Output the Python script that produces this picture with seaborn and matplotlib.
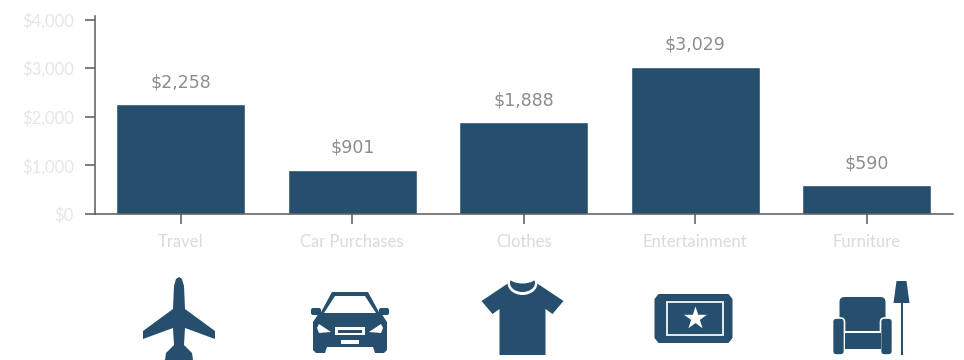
import matplotlib
matplotlib.use("Agg")
import matplotlib.pyplot as plt
from matplotlib.patches import Polygon, Rectangle, Ellipse, FancyBboxPatch
import seaborn as sns

categories = ["Travel", "Car Purchases", "Clothes", "Entertainment", "Furniture"]
spending = [2258, 901, 1888, 3029, 590]
y_ticks = [0, 1000, 2000, 3000, 4000]
y_tick_labels = ["$0", "$1,000", "$2,000", "$3,000", "$4,000"]

NAVY = "#264f6e"
AXIS = "#5a5a5a"
W, H = 964, 360

sns.set_theme(style="white")
plt.rcParams["font.family"] = ["Lato", "DejaVu Sans"]

fig = plt.figure(figsize=(W / 100, H / 100), dpi=100, facecolor="white")
ax = fig.add_axes([95 / W, 1 - 214 / H, (952.5 - 95) / W, (214 - 16) / H])

sns.barplot(x=categories, y=spending, color=NAVY, saturation=1, width=0.755, ax=ax)
ax.set_ylim(0, 4072)
ax.set_xlim(-0.5, 4.5)
ax.set_yticks(y_ticks, y_tick_labels)
ax.tick_params(axis="both", length=7.2, width=1.1, color=AXIS, direction="out", left=True, bottom=True)
ax.tick_params(axis="y", labelsize=12, labelcolor="#e6e6e6", pad=8)
ax.tick_params(axis="x", labelsize=12, labelcolor="#dadada", pad=7)
ax.set_xlabel("")
ax.set_ylabel("")
for side in ("top", "right"):
    ax.spines[side].set_visible(False)
for side in ("left", "bottom"):
    ax.spines[side].set_color(AXIS)
    ax.spines[side].set_linewidth(1.1)

for i, value in enumerate(spending):
    ax.annotate(f"${value:,}", (i, value), xytext=(0, 9.5), textcoords="offset points",
                ha="center", va="bottom", fontsize=12.5, color="#8c8c8c", family="DejaVu Sans")

# Icon row, laid out in a pixel-based overlay
ic = fig.add_axes([0, 0, 1, 1], facecolor="none")
ic.set_xlim(0, W)
ic.set_ylim(H, 0)
ic.axis("off")


def poly(points, color=NAVY):
    ic.add_patch(Polygon(points, closed=True, facecolor=color, edgecolor="none"))


def rect(x0, y0, x1, y1, color=NAVY):
    ic.add_patch(Rectangle((x0, y0), x1 - x0, y1 - y0, facecolor=color, edgecolor="none"))


def rounded(x0, y0, x1, y1, radius, edge="none"):
    ic.add_patch(FancyBboxPatch((x0, y0), x1 - x0, y1 - y0, boxstyle=f"round,pad=0,rounding_size={radius}",
                                facecolor=NAVY, edgecolor=edge, linewidth=1.2))


def plane(cx):
    poly([(cx - 5, 286), (cx - 3, 279), (cx, 277), (cx + 3, 279), (cx + 5, 286), (cx + 6, 309),
          (cx + 36, 331), (cx + 36, 339), (cx + 6, 328), (cx + 5, 345), (cx + 13, 353), (cx + 14, 360),
          (cx - 14, 360), (cx - 13, 353), (cx - 5, 345), (cx - 6, 328), (cx - 36, 339), (cx - 36, 331),
          (cx - 6, 309)])


def car(cx):
    poly([(cx - 18, 292), (cx + 18, 292), (cx + 30, 314), (cx - 30, 314)])
    poly([(cx - 15, 296), (cx + 15, 296), (cx + 26, 313), (cx - 26, 313)], color="white")
    rounded(cx - 39, 308, cx - 29, 315, 2)
    rounded(cx + 29, 308, cx + 39, 315, 2)
    poly([(cx - 31, 313), (cx + 31, 313), (cx + 37, 322), (cx + 37, 350), (cx + 34, 353), (cx + 25, 353),
          (cx + 23, 347), (cx - 23, 347), (cx - 25, 353), (cx - 34, 353), (cx - 37, 350), (cx - 37, 322)])
    # headlights, grille and plate
    poly([(cx - 31, 324), (cx - 19, 332), (cx - 31, 333), (cx - 33, 328)], color="white")
    poly([(cx + 31, 324), (cx + 19, 332), (cx + 31, 333), (cx + 33, 328)], color="white")
    rect(cx - 15, 327, cx + 15, 335, color="white")
    rect(cx - 12, 329.5, cx + 12, 332.5)
    rect(cx - 9, 340, cx + 9, 344, color="white")


def shirt(cx):
    poly([(cx - 14, 283), (cx + 14, 283), (cx + 41, 301), (cx + 30, 314), (cx + 23, 309), (cx + 23, 355),
          (cx - 23, 355), (cx - 23, 309), (cx - 30, 314), (cx - 41, 301)])
    ic.add_patch(Ellipse((cx, 283), 30, 24, facecolor="white", edgecolor="none"))
    ic.add_patch(Ellipse((cx, 283), 25, 18, facecolor=NAVY, edgecolor="none"))
    ic.add_patch(Ellipse((cx, 276), 29, 15, facecolor="white", edgecolor="none"))


def ticket(cx):
    poly([(cx - 35, 294), (cx + 35, 294), (cx + 39, 299), (cx + 39, 338), (cx + 35, 343), (cx - 35, 343),
          (cx - 39, 338), (cx - 39, 299)])
    ic.add_patch(Rectangle((cx - 27, 302), 56, 33, facecolor="none", edgecolor="#e4ebf0", linewidth=1.4))
    ic.scatter([cx + 1], [318], marker="*", s=300, color="white", linewidths=0)


def armchair(cx):
    rounded(cx - 23, 297, cx + 23, 340, 5)
    rect(cx - 19, 331, cx + 19, 332.5, color="white")
    rounded(cx - 30, 318, cx - 18, 355, 4, edge="white")
    rounded(cx + 18, 318, cx + 30, 355, 4, edge="white")
    rect(cx - 18, 333, cx + 18, 349)
    # floor lamp
    poly([(cx + 34, 281), (cx + 44, 281), (cx + 47, 303), (cx + 31, 303)])
    rect(cx + 38, 303, cx + 40, 355)


plane(179)
car(350)
shirt(522.5)
ticket(693.5)
armchair(862.5)

fig.savefig("out.png", dpi=100)
